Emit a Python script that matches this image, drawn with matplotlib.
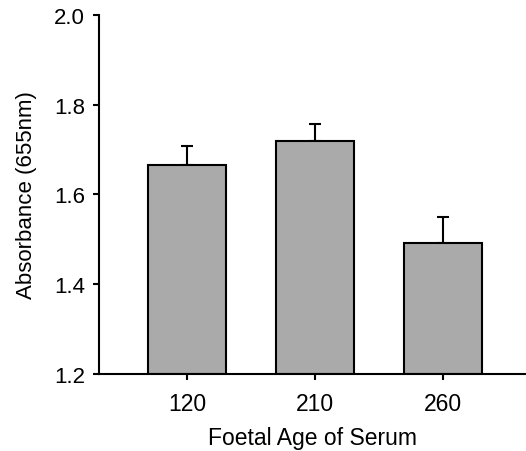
import matplotlib
matplotlib.use("Agg")
import matplotlib.pyplot as plt

ages = ["120", "210", "260"]
absorbance = [1.666, 1.718, 1.492]
err_up = [0.042, 0.040, 0.058]

plt.rcParams['font.family'] = ['Liberation Sans', 'DejaVu Sans']

fig = plt.figure(figsize=(5.26, 4.52), dpi=100)
ax = fig.add_axes([0.188, 0.170, 0.812, 0.795])

pos = range(len(ages))
ax.bar(pos, [v - 1.2 for v in absorbance], bottom=1.2, width=0.61,
       color='#aaaaaa', edgecolor='black', linewidth=1.5, zorder=2)
ax.errorbar(pos, absorbance, yerr=[[0] * len(ages), err_up], fmt='none',
            ecolor='black', elinewidth=1.5, capsize=4.5, capthick=1.5, zorder=1)

ax.set_xlim(-0.69, 2.65)
ax.set_ylim(1.2, 2.0)
ax.set_xticks(list(pos))
ax.set_xticklabels(ages)
ax.set_yticks([1.2, 1.4, 1.6, 1.8, 2.0])
ax.set_yticklabels(["1.2", "1.4", "1.6", "1.8", "2.0"])

for s in ['top', 'right']:
    ax.spines[s].set_visible(False)
for s in ['left', 'bottom']:
    ax.spines[s].set_linewidth(1.5)
ax.tick_params(axis='both', width=1.5, length=4, direction='out')
ax.tick_params(axis='x', pad=9, labelsize=16.5)
ax.tick_params(axis='y', pad=6, labelsize=16)

ax.set_xlabel("Foetal Age of Serum", fontsize=16.5, labelpad=8)
ax.set_ylabel("Absorbance (655nm)", fontsize=16, labelpad=12)

fig.savefig("out.png", dpi=100)
